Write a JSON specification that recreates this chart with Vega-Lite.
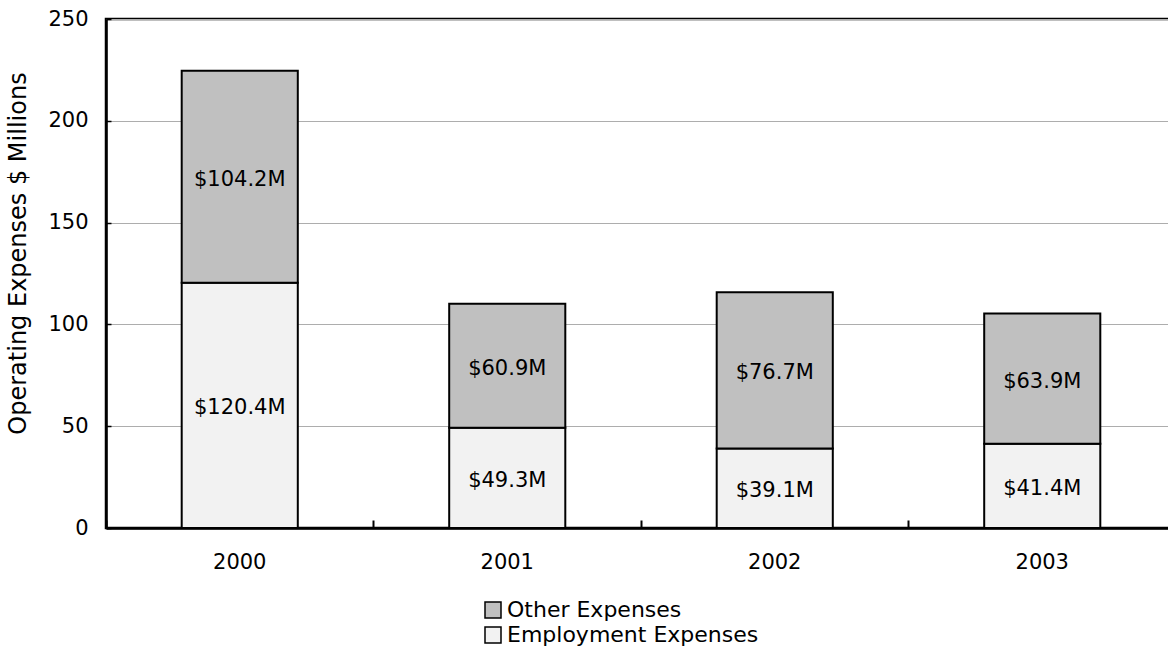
{
  "$schema": "https://vega.github.io/schema/vega-lite/v6.json",
  "width": 1064,
  "height": 509,
  "autosize": "none",
  "padding": {"left": 106, "top": 19, "right": 0, "bottom": 127},
  "background": "white",
  "config": {
    "font": "DejaVu Sans",
    "view": {"stroke": "black", "strokeWidth": 2.5},
    "axis": {"labelFont": "DejaVu Sans", "titleFont": "DejaVu Sans", "labelColor": "black", "titleColor": "black"}
  },
  "data": {
    "values": [
      {"year": "2000", "series": "Employment Expenses", "value": 120.4, "label": "$120.4M"},
      {"year": "2000", "series": "Other Expenses", "value": 104.2, "label": "$104.2M"},
      {"year": "2001", "series": "Employment Expenses", "value": 49.3, "label": "$49.3M"},
      {"year": "2001", "series": "Other Expenses", "value": 60.9, "label": "$60.9M"},
      {"year": "2002", "series": "Employment Expenses", "value": 39.1, "label": "$39.1M"},
      {"year": "2002", "series": "Other Expenses", "value": 76.7, "label": "$76.7M"},
      {"year": "2003", "series": "Employment Expenses", "value": 41.4, "label": "$41.4M"},
      {"year": "2003", "series": "Other Expenses", "value": 63.9, "label": "$63.9M"}
    ]
  },
  "encoding": {
    "x": {
      "field": "year",
      "type": "nominal",
      "scale": {"range": [0, 1070], "paddingInner": 0, "paddingOuter": 0},
      "axis": {
        "title": null,
        "labelAngle": 0,
        "labelFontSize": 21,
        "labelPadding": 31,
        "bandPosition": 0,
        "tickSize": -8,
        "tickColor": "black",
        "tickWidth": 2,
        "domainColor": "black",
        "domainWidth": 2.5,
        "grid": false
      }
    }
  },
  "layer": [
    {
      "mark": {"type": "bar", "width": {"band": 0.434}, "stroke": "black", "strokeWidth": 2},
      "encoding": {
        "y": {
          "field": "value",
          "type": "quantitative",
          "stack": "zero",
          "scale": {"domain": [0, 250], "nice": false},
          "axis": {
            "title": "Operating Expenses $ Millions",
            "titleFontSize": 24,
            "titleFontWeight": "normal",
            "titlePadding": 17,
            "titleY": 234,
            "values": [0, 50, 100, 150, 200, 250],
            "labelFontSize": 21,
            "labelPadding": 23,
            "tickSize": -5,
            "tickColor": "black",
            "tickWidth": 1.5,
            "domainColor": "black",
            "domainWidth": 2.5,
            "grid": true,
            "gridColor": "#ADADAD",
            "gridWidth": 1.2
          }
        },
        "color": {
          "field": "series",
          "type": "nominal",
          "scale": {"domain": ["Other Expenses", "Employment Expenses"], "range": ["#C0C0C0", "#F2F2F2"]},
          "legend": {
            "title": null,
            "orient": "none",
            "legendX": 376,
            "legendY": 580,
            "direction": "vertical",
            "symbolType": "square",
            "symbolSize": 256,
            "symbolStrokeColor": "black",
            "symbolStrokeWidth": 1.5,
            "symbolOpacity": 1,
            "labelFontSize": 22,
            "labelFont": "DejaVu Sans",
            "labelColor": "black",
            "labelLimit": 400,
            "labelOffset": 3,
            "rowPadding": 3,
            "padding": 0
          }
        },
        "order": {"field": "series", "sort": "ascending"}
      }
    },
    {
      "transform": [
        {"stack": "value", "groupby": ["year"], "sort": [{"field": "series", "order": "ascending"}], "as": ["y0", "y1"]},
        {"fold": ["y0", "y1"], "as": ["edge", "pos"]},
        {"aggregate": [{"op": "mean", "field": "pos", "as": "mid"}], "groupby": ["year", "series", "label"]}
      ],
      "mark": {"type": "text", "fontSize": 21, "font": "DejaVu Sans", "color": "black", "baseline": "middle", "align": "center", "dy": 3},
      "encoding": {
        "y": {"field": "mid", "type": "quantitative"},
        "text": {"field": "label", "type": "nominal"}
      }
    }
  ]
}
